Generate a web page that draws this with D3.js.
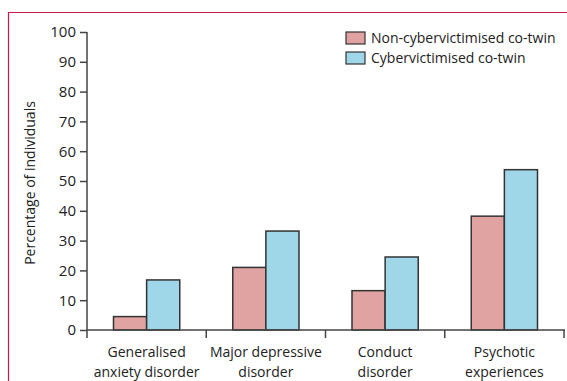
<!DOCTYPE html>
<html>
<head>
<meta charset="utf-8">
<script src="https://cdn.jsdelivr.net/npm/d3@7"></script>
<style>
  body { margin: 0; background: #fff; }
  text { font-family: "Open Sans", "Noto Sans", sans-serif; fill: #222; }
</style>
</head>
<body>
<div id="chart"></div>
<script>
var categories = [["Generalised", "anxiety disorder"], ["Major depressive", "disorder"], ["Conduct", "disorder"], ["Psychotic", "experiences"]];
var seriesNames = ["Non-cybervictimised co-twin", "Cybervictimised co-twin"];
var nonVictimised = [4.5, 21, 13.2, 38.2];
var victimised = [16.8, 33.2, 24.5, 53.8];
var yTicks = [0, 10, 20, 30, 40, 50, 60, 70, 80, 90, 100];
var colors = ["#e0a3a1", "#9fd6e8"];

var width = 567, height = 381;
var plotLeft = 87, plotRight = 564, plotTop = 32, plotBottom = 330;

var svg = d3.select("#chart").append("svg")
	.attr("width", width)
	.attr("height", height);

// frame lines
svg.append("path")
	.attr("d", "M8.5," + height + "V12.5H" + width)
	.attr("fill", "none")
	.attr("stroke", "#c8184a")
	.attr("stroke-width", 1.2);

var x0 = d3.scaleBand()
	.domain(d3.range(categories.length))
	.range([plotLeft, plotRight])
	.paddingInner(0)
	.paddingOuter(0);

var x1 = d3.scaleBand()
	.domain([0, 1])
	.range([0, x0.bandwidth()])
	.paddingInner(0)
	.paddingOuter(0.8);

var y = d3.scaleLinear()
	.domain([0, 100])
	.range([plotBottom, plotTop]);

var rows = categories.map(function(c, i) {
	return { i: i, vals: [nonVictimised[i], victimised[i]] };
});

var g = svg.selectAll("g.grp")
	.data(rows)
	.enter()
	.append("g")
	.attr("class", "grp")
	.attr("transform", function(d) { return "translate(" + x0(d.i) + ",0)"; });

g.selectAll("rect")
	.data(function(d) { return d.vals; })
	.enter()
	.append("rect")
	.attr("x", function(d, j) { return x1(j); })
	.attr("y", function(d) { return y(d); })
	.attr("width", x1.bandwidth())
	.attr("height", function(d) { return y(0) - y(d); })
	.attr("fill", function(d, j) { return colors[j]; })
	.attr("stroke", "#333")
	.attr("stroke-width", 1.5);

// y axis
var yAxis = d3.axisLeft(y).tickValues(yTicks).tickSize(7).tickPadding(4);
var ya = svg.append("g")
	.attr("transform", "translate(" + plotLeft + ",0)")
	.call(yAxis);
ya.select(".domain").remove();
ya.selectAll("line").attr("stroke", "#444").attr("stroke-width", 1.5);
ya.selectAll("text").style("font-size", "15px").attr("fill", "#222");
svg.append("line")
	.attr("x1", plotLeft).attr("x2", plotLeft)
	.attr("y1", plotTop).attr("y2", plotBottom + 8)
	.attr("stroke", "#444").attr("stroke-width", 1.5);

// x axis
svg.append("line")
	.attr("x1", plotLeft).attr("x2", plotRight + 1)
	.attr("y1", plotBottom).attr("y2", plotBottom)
	.attr("stroke", "#444").attr("stroke-width", 1.5);
svg.selectAll("line.xtick")
	.data(d3.range(1, categories.length + 1))
	.enter()
	.append("line")
	.attr("class", "xtick")
	.attr("x1", function(d) { return x0(0) + d * x0.step(); })
	.attr("x2", function(d) { return x0(0) + d * x0.step(); })
	.attr("y1", plotBottom).attr("y2", plotBottom + 8)
	.attr("stroke", "#444").attr("stroke-width", 1.5);

svg.selectAll("text.xlab")
	.data(rows)
	.enter()
	.append("text")
	.attr("class", "xlab")
	.attr("text-anchor", "middle")
	.style("font-size", "14px")
	.attr("x", function(d) { return x0(d.i) + x0.bandwidth() / 2; })
	.attr("y", 357)
	.selectAll("tspan")
	.data(function(d) { return categories[d.i]; })
	.enter()
	.append("tspan")
	.attr("x", function() { return d3.select(this.parentNode).attr("x"); })
	.attr("dy", function(d, k) { return k === 0 ? 0 : 20; })
	.text(function(d) { return d; });

svg.append("text")
	.attr("transform", "translate(35,183) rotate(-90)")
	.attr("text-anchor", "middle")
	.style("font-size", "14px")
	.text("Percentage of individuals");

// legend
var leg = svg.selectAll("g.leg")
	.data(seriesNames)
	.enter()
	.append("g")
	.attr("class", "leg")
	.attr("transform", function(d, i) { return "translate(346," + (32 + i * 20) + ")"; });
leg.append("rect")
	.attr("width", 19).attr("height", 12)
	.attr("fill", function(d, i) { return colors[i]; })
	.attr("stroke", "#333").attr("stroke-width", 1.2);
leg.append("text")
	.attr("x", 25).attr("y", 11)
	.style("font-size", "14px")
	.text(function(d) { return d; });
</script>
</body>
</html>
